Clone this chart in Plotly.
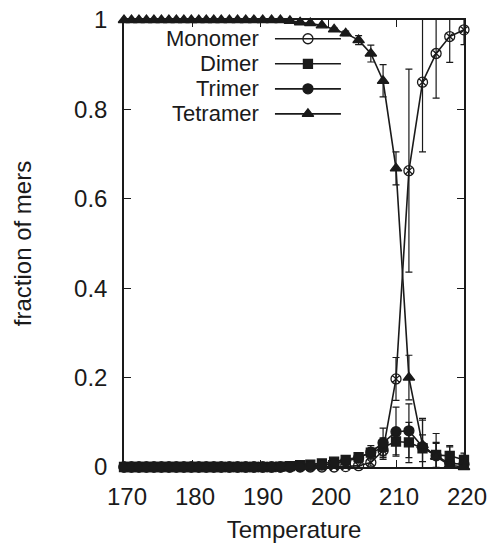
import plotly.graph_objects as go

# Temperature grid of the simulation runs
temperature = [170.0, 171.1, 172.2, 173.3, 174.4, 175.5, 176.6, 177.7, 178.8, 179.9,
               181.0, 182.1, 183.2, 184.3, 185.5, 186.7, 187.9, 189.1, 190.4, 191.7,
               193.0, 194.4, 195.9, 197.4, 199.1, 200.9, 202.6, 204.5, 206.3, 208.1,
               210.0, 211.9, 213.9, 215.9, 217.9, 220.0]

monomer = [0.0] * 26 + [0.001, 0.003, 0.010, 0.037, 0.197, 0.663, 0.861, 0.925, 0.963, 0.978]
monomer_err = [0.0] * 28 + [0.008, 0.020, 0.048, 0.227, 0.156, 0.100, 0.058, 0.033]

dimer = [0.0] * 20 + [0.001, 0.002, 0.004, 0.005, 0.008, 0.012, 0.016, 0.022, 0.032, 0.045,
                      0.057, 0.055, 0.042, 0.027, 0.025, 0.016]
dimer_err = [0.0] * 26 + [0.005, 0.008, 0.010, 0.020, 0.030, 0.045, 0.030, 0.028, 0.020, 0.015]

trimer = [0.0] * 22 + [0.001, 0.002, 0.004, 0.009, 0.013, 0.020, 0.033, 0.054, 0.079, 0.081,
                       0.045, 0.025, 0.008, 0.006]
trimer_err = [0.0] * 26 + [0.005, 0.010, 0.015, 0.033, 0.055, 0.060, 0.060, 0.050, 0.040, 0.020]

tetramer = [1.0] * 21 + [0.998, 0.995, 0.993, 0.988, 0.979, 0.970, 0.955, 0.925, 0.864, 0.668,
                         0.200, 0.049, 0.023, 0.004, 0.0]
tetramer_err = [0.0] * 25 + [0.003, 0.005, 0.010, 0.019, 0.036, 0.037, 0.050, 0.060, 0.030,
                             0.010, 0.005]

series_names = ["Monomer", "Dimer", "Trimer", "Tetramer"]
series_values = [monomer, dimer, trimer, tetramer]
series_errors = [monomer_err, dimer_err, trimer_err, tetramer_err]
plot_symbols = ["circle-x-open", "square", "circle", "triangle-up"]
key_symbols = ["circle-open", "square", "circle", "triangle-up"]
symbol_sizes = [10, 9, 10, 10]

x_ticks = [170, 180, 190, 200, 210, 220]
y_ticks = [0, 0.2, 0.4, 0.6, 0.8, 1]
y_tick_text = ["0", "0.2", "0.4", "0.6", "0.8", "1"]

INK = "#1a1a1a"
FONT = "Liberation Sans, Arial, Helvetica, sans-serif"

fig = go.Figure()

for name, vals, errs, sym, sz in zip(series_names, series_values, series_errors,
                                     plot_symbols, symbol_sizes):
    # error bars, clipped to the frame
    fig.add_trace(go.Scatter(
        x=temperature, y=vals, mode="markers",
        marker=dict(size=1, opacity=0),
        error_y=dict(type="data", array=errs, visible=True, color=INK,
                     thickness=1.2, width=3.5),
        showlegend=False, hoverinfo="skip", cliponaxis=True,
    ))
    # connected symbols
    fig.add_trace(go.Scatter(
        x=temperature, y=vals, mode="lines+markers", name=name,
        line=dict(color=INK, width=1.6),
        marker=dict(symbol=sym, size=sz, color=INK,
                    line=dict(color=INK, width=1.3)),
        showlegend=False, cliponaxis=False,
    ))

# key in the upper part of the frame: label, then a line sample with its symbol
key_rows = [0.958, 0.902, 0.846, 0.790]
key_line = [0.444, 0.638]
key_mark = 0.541
key_text_right = 0.400
for name, sym, sz, ky in zip(series_names, key_symbols, symbol_sizes, key_rows):
    fig.add_trace(go.Scatter(
        x=key_line, y=[ky, ky], xaxis="x2", yaxis="y2", mode="lines",
        line=dict(color=INK, width=1.6), showlegend=False, hoverinfo="skip",
    ))
    fig.add_trace(go.Scatter(
        x=[key_mark], y=[ky], xaxis="x2", yaxis="y2", mode="markers",
        marker=dict(symbol=sym, size=sz, color=INK, line=dict(color=INK, width=1.3)),
        showlegend=False, hoverinfo="skip", cliponaxis=False,
    ))
    fig.add_annotation(x=key_text_right, y=ky, xref="x2", yref="y2", text=name,
                       showarrow=False, xanchor="right", yanchor="middle", borderpad=0,
                       font=dict(family=FONT, size=22, color=INK))

axis_common = dict(
    showline=True, linecolor=INK, linewidth=1.5, mirror="ticks",
    ticks="inside", ticklen=7, tickwidth=1.2, tickcolor=INK,
    showgrid=False, zeroline=False, automargin=False,
    tickfont=dict(family=FONT, size=24, color=INK),
)

fig.update_layout(
    template="none",
    width=489, height=543,
    margin=dict(l=124, r=25, t=20, b=76),
    paper_bgcolor="white", plot_bgcolor="white",
    font=dict(family=FONT, size=24, color=INK),
    xaxis=dict(range=[170, 220], tickvals=x_ticks, ticklabelstandoff=7, ticklabelshift=3,
               title=dict(text="Temperature", font=dict(family=FONT, size=24, color=INK),
                          standoff=26),
               **axis_common),
    yaxis=dict(range=[0, 1], tickvals=y_ticks, ticktext=y_tick_text, ticklabelstandoff=10,
               title=dict(text="fraction of mers", font=dict(family=FONT, size=24, color=INK),
                          standoff=36),
               **axis_common),
    xaxis2=dict(range=[0, 1], overlaying="x", visible=False, fixedrange=True),
    yaxis2=dict(range=[0, 1], overlaying="y", visible=False, fixedrange=True),
    showlegend=False,
)

fig.write_html("out.html")
